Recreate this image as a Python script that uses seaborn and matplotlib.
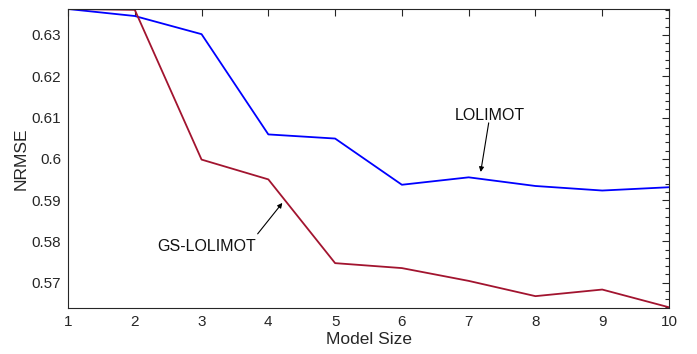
import matplotlib
matplotlib.use("Agg")
import matplotlib.pyplot as plt
from matplotlib.ticker import MultipleLocator
import numpy as np
import pandas as pd
import seaborn as sns

model_size = [1, 2, 3, 4, 5, 6, 7, 8, 9, 10]
nrmse_lolimot = [0.6363, 0.6346, 0.6302, 0.6059, 0.6049, 0.5937, 0.5955, 0.5934, 0.5923, 0.5931]
nrmse_gs_lolimot = [0.6363, 0.6361, 0.5998, 0.5950, 0.5747, 0.5735, 0.5704, 0.5667, 0.5683, 0.5640]

df = pd.DataFrame({
    "Model Size": model_size * 2,
    "NRMSE": nrmse_lolimot + nrmse_gs_lolimot,
    "Method": ["LOLIMOT"] * len(model_size) + ["GS-LOLIMOT"] * len(model_size),
})

sns.set_style("white")
plt.rcParams["font.family"] = ["Liberation Sans", "DejaVu Sans"]

fig = plt.figure(figsize=(6.97, 3.54), dpi=100)
ax = fig.add_axes([68 / 697, 1 - 307.7 / 354, (669 - 68) / 697, (307.7 - 9) / 354])

sns.lineplot(data=df, x="Model Size", y="NRMSE", hue="Method",
             palette={"LOLIMOT": "#0000FF", "GS-LOLIMOT": "#A2142F"},
             linewidth=1.3, legend=False, ax=ax)

ax.set_xlim(1, 10)
ax.set_ylim(0.5639, 0.6363)
ax.set_xticks(model_size)
ax.set_yticks([0.57, 0.58, 0.59, 0.60, 0.61, 0.62, 0.63])
ax.set_yticklabels(["0.57", "0.58", "0.59", "0.6", "0.61", "0.62", "0.63"])
ax.yaxis.set_minor_locator(MultipleLocator(0.002))

ax.tick_params(axis="both", which="both", direction="in", top=True, right=True,
               labelsize=11, colors="#262626", labelcolor="#262626")
ax.tick_params(axis="both", which="major", length=5, width=0.8, pad=5)
ax.tick_params(axis="y", which="minor", length=3, width=0.8)
for s in ax.spines.values():
    s.set_color("#262626")
    s.set_linewidth(0.8)

ax.set_xlabel("Model Size", fontsize=12.5, color="#262626", labelpad=2.5)
ax.set_ylabel("NRMSE", fontsize=12.5, color="#262626", labelpad=2)

arrow = dict(arrowstyle="-|>", color="black", lw=0.8, mutation_scale=7,
             shrinkA=0, shrinkB=0)
ax.text(7.32, 0.6106, "LOLIMOT", fontsize=11.5, ha="center", va="center", color="#111111")
ax.annotate("", xy=(7.18, 0.5968), xytext=(7.30, 0.6087), arrowprops=arrow)
ax.text(3.08, 0.5788, "GS-LOLIMOT", fontsize=11.5, ha="center", va="center", color="#111111")
ax.annotate("", xy=(4.21, 0.5893), xytext=(3.84, 0.5818), arrowprops=arrow)

fig.savefig("out.png", dpi=100)
